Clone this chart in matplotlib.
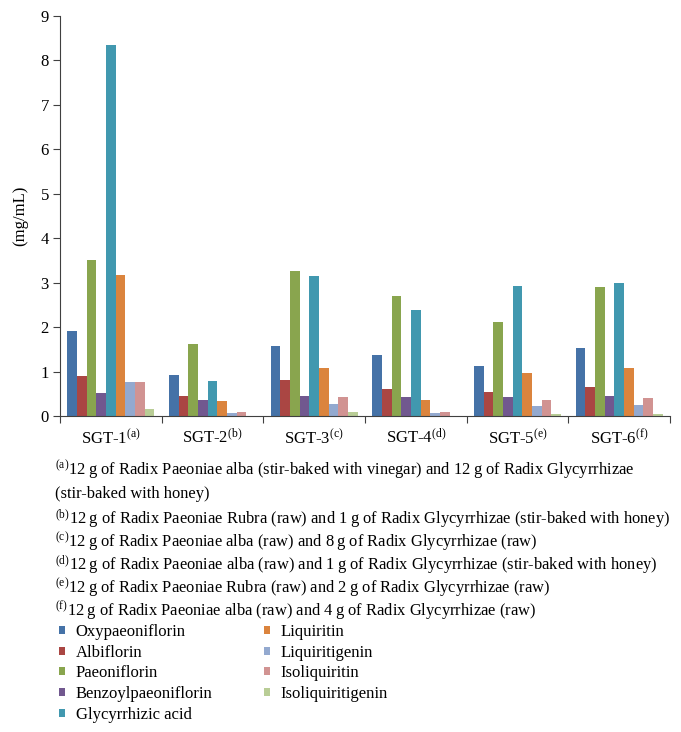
import matplotlib
matplotlib.use("Agg")
import matplotlib.pyplot as plt
import numpy as np

plt.rcParams['font.family'] = ['Liberation Serif', 'DejaVu Serif']
plt.rcParams['mathtext.fontset'] = 'custom'
plt.rcParams['mathtext.rm'] = 'Liberation Serif'
plt.rcParams['mathtext.it'] = 'Liberation Serif:italic'

categories = ["SGT-1", "SGT-2", "SGT-3", "SGT-4", "SGT-5", "SGT-6"]
notes = ["a", "b", "c", "d", "e", "f"]
series = ["Oxypaeoniflorin", "Albiflorin", "Paeoniflorin", "Benzoylpaeoniflorin",
          "Glycyrrhizic acid", "Liquiritin", "Liquiritigenin", "Isoliquiritin",
          "Isoliquiritigenin"]
colors = ["#4572A7", "#AA4643", "#89A54E", "#71588F", "#4198AF",
          "#DB843D", "#93A9CF", "#D19392", "#B9CD96"]

oxypaeoniflorin = [1.91, 0.92, 1.58, 1.38, 1.13, 1.52]
albiflorin = [0.89, 0.45, 0.82, 0.60, 0.53, 0.66]
paeoniflorin = [3.51, 1.62, 3.27, 2.70, 2.12, 2.90]
benzoylpaeoniflorin = [0.51, 0.36, 0.46, 0.43, 0.42, 0.45]
glycyrrhizic_acid = [8.35, 0.79, 3.15, 2.39, 2.93, 2.99]
liquiritin = [3.17, 0.34, 1.09, 0.35, 0.96, 1.07]
liquiritigenin = [0.76, 0.06, 0.27, 0.06, 0.22, 0.24]
isoliquiritin = [0.76, 0.10, 0.43, 0.10, 0.37, 0.41]
isoliquiritigenin = [0.16, 0.01, 0.08, 0.01, 0.05, 0.05]

values = [oxypaeoniflorin, albiflorin, paeoniflorin, benzoylpaeoniflorin,
          glycyrrhizic_acid, liquiritin, liquiritigenin, isoliquiritin,
          isoliquiritigenin]

TS = "\u2009"
footnotes = [
    f"12{TS}g of Radix Paeoniae alba (stir-baked with vinegar) and 12{TS}g of Radix Glycyrrhizae",
    f"12{TS}g of Radix Paeoniae Rubra (raw) and 1{TS}g of Radix Glycyrrhizae (stir-baked with honey)",
    f"12{TS}g of Radix Paeoniae alba (raw) and 8{TS}g of Radix Glycyrrhizae (raw)",
    f"12{TS}g of Radix Paeoniae alba (raw) and 1{TS}g of Radix Glycyrrhizae (stir-baked with honey)",
    f"12{TS}g of Radix Paeoniae Rubra (raw) and 2{TS}g of Radix Glycyrrhizae (raw)",
    f"12{TS}g of Radix Paeoniae alba (raw) and 4{TS}g of Radix Glycyrrhizae (raw)",
]
footnote_a_cont = "(stir-baked with honey)"

W, H = 681, 732
fig = plt.figure(figsize=(W / 100, H / 100), dpi=100)
ax = fig.add_axes([60 / W, 1 - 416 / H, 610 / W, 400 / H])

x = np.arange(len(categories))
bw = 0.095
n = len(series)
handles = []
for i, (name, vals, c) in enumerate(zip(series, values, colors)):
    off = (i - (n - 1) / 2) * bw
    b = ax.bar(x + off, vals, width=bw, color=c, label=name, linewidth=0)
    handles.append(b)

FS = 12
ax.set_xlim(-0.5, len(categories) - 0.5)
ax.set_ylim(0, 9)
ax.set_yticks(range(0, 10))
ax.set_xticks(np.arange(-0.5, len(categories), 1.0))
ax.set_xticklabels([])
ax.set_xticks(x, minor=True)
ax.set_xticklabels([f"{c}$^{{\\mathrm{{({nt})}}}}$" for c, nt in zip(categories, notes)],
                   minor=True, fontsize=FS)
ax.tick_params(axis='x', which='minor', length=0, pad=9)
ax.tick_params(axis='x', which='major', length=5, direction='out', color='#404040')
ax.tick_params(axis='y', length=5, direction='out', labelsize=FS, color='#404040', pad=3)
for s in ['top', 'right']:
    ax.spines[s].set_visible(False)
for s in ['left', 'bottom']:
    ax.spines[s].set_color('#404040')
ax.set_ylabel("(mg/mL)", fontsize=FS, labelpad=9)

# footnotes
FN = 11.85
ys = [475, 524, 547, 570, 593, 616]
for nt, txt, yy in zip(notes, footnotes, ys):
    fig.text(55 / W, 1 - yy / H, f"$^{{\\mathrm{{({nt})}}}}$" + txt, fontsize=FN, va='baseline')
fig.text(55 / W, 1 - 498 / H, footnote_a_cont, fontsize=FN, va='baseline')

common = dict(loc='upper left', frameon=False, fontsize=FS,
              handlelength=0.38, handleheight=0.38, handletextpad=0.62,
              labelspacing=0.28, borderaxespad=0, borderpad=0)
leg1 = fig.legend(handles=handles[:5], labels=series[:5],
                  bbox_to_anchor=(59 / W, 1 - 624 / H), **common)
leg2 = fig.legend(handles=handles[5:], labels=series[5:],
                  bbox_to_anchor=(264 / W, 1 - 624 / H), **common)

fig.savefig("out.png", dpi=100)
